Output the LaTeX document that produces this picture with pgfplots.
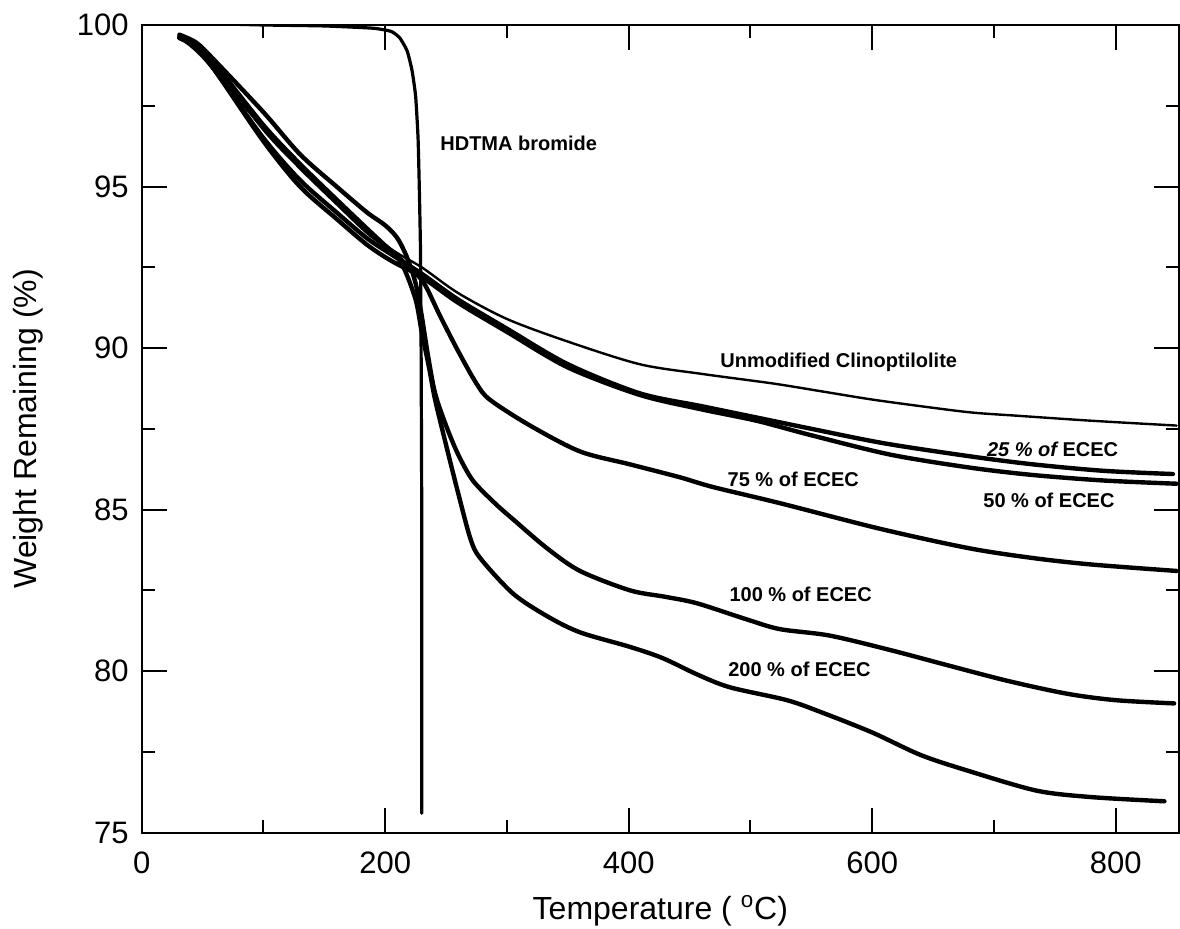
\documentclass[border=0pt]{standalone}
\usepackage{fontspec}
\setmainfont{Liberation Sans}
\usepackage{pgfplots}
\pgfplotsset{compat=1.18}
\tikzset{lbl/.style={anchor=west, inner sep=0pt, font=\bfseries\fontsize{10}{12}\selectfont}}

\begin{document}
\begin{tikzpicture}
\begin{axis}[
  scale only axis,
  width=518.7pt, height=403.85pt,
  xmin=0, xmax=852, ymin=75, ymax=100,
  xtick={0,200,...,800}, minor xtick={100,300,...,700},
  ytick={75,80,...,100}, minor ytick={77.5,82.5,...,97.5},
  tick align=inside,
  major tick length=12.5pt, minor tick length=6.5pt,
  every tick/.style={black, line width=1pt},
  axis line style={line width=1pt},
  /pgf/number format/assume math mode=true,
  ticklabel style={font=\fontsize{15.5}{18}\selectfont},
  xticklabel style={yshift=-6pt},
  yticklabel style={xshift=-3pt},
  xlabel={Temperature ( \textsuperscript{o}C)},
  ylabel={Weight Remaining (\%)},
  label style={font=\fontsize{16}{19}\selectfont},
  xlabel style={yshift=-4pt},
  ylabel style={yshift=10pt},
  every axis plot/.style={black, line join=round, line cap=round},
]
% HDTMA bromide
\addplot[line width=1.6pt, smooth, tension=0.3] coordinates {
  (31,100.1) (50,100.05) (100,100.0) (150,99.97) (190,99.9) (205,99.8)
  (212,99.6) (218,99.2) (222,98.6) (225,97.8) (227,96.5) (228,95.0)
  (229,93.0) (229.5,90.0) (230,85.0) (230,80.0) (230,75.6)
};
% unmodified clinoptilolite
\addplot[line width=1.2pt, smooth, tension=0.5] coordinates {
  (31,99.6) (50,99.0) (100,96.8) (150,94.9) (200,93.2) (230,92.5)
  (260,91.7) (300,90.9) (350,90.2) (409,89.5) (460,89.2) (519,88.9)
  (560,88.65) (601,88.4) (650,88.15) (683,88.0) (721,87.9) (780,87.75) (850,87.6)
};
% 25 % of ECEC
\addplot[line width=2.2pt, smooth, tension=0.5] coordinates {
  (31,99.6) (45,99.3) (60,98.6) (100,96.5) (130,95.2) (160,94.2) (185,93.4)
  (205,92.9) (230,92.3) (260,91.5) (300,90.6) (350,89.5) (409,88.6) (460,88.2)
  (505,87.85) (550,87.5) (610,87.05) (680,86.65) (732,86.4)
  (790,86.2) (847,86.1)
};
% 50 % of ECEC
\addplot[line width=2.2pt, smooth, tension=0.5] coordinates {
  (31,99.6) (45,99.3) (60,98.6) (100,96.4) (130,95.0) (160,94.0) (185,93.2)
  (205,92.7) (230,92.2) (260,91.4) (300,90.5) (350,89.4) (409,88.55) (460,88.1)
  (505,87.75) (550,87.3) (615,86.7) (680,86.3) (732,86.07)
  (790,85.9) (850,85.8)
};
% 75 % of ECEC
\addplot[line width=2.2pt, smooth, tension=0.5] coordinates {
  (31,99.65) (45,99.4) (60,98.8) (100,96.9) (130,95.7) (160,94.6) (185,93.7)
  (205,93.0) (220,92.5) (232,92.0) (245,91.0) (260,89.9) (275,88.9) (286,88.4)
  (319,87.6) (360,86.8) (401,86.4) (442,86.0) (469,85.7) (524,85.2) (607,84.4)
  (680,83.8) (732,83.5) (780,83.3) (850,83.1)
};
% 100 % of ECEC
\addplot[line width=2.2pt, smooth, tension=0.5] coordinates {
  (31,99.7) (45,99.45) (60,98.9) (100,97.3) (130,96.0) (160,95.0) (185,94.2)
  (200,93.8) (210,93.4) (218,92.8) (225,92.0) (230,91.0) (235,89.8) (241,88.6)
  (250,87.6) (260,86.7) (272,85.9) (290,85.2) (305,84.7) (333,83.8) (360,83.1)
  (401,82.5) (430,82.3) (456,82.1) (497,81.6) (524,81.3) (565,81.1) (615,80.65)
  (660,80.2) (711,79.7) (760,79.3) (800,79.1) (848,79.0)
};
% 200 % of ECEC
\addplot[line width=2.2pt, smooth, tension=0.5] coordinates {
  (31,99.6) (45,99.4) (60,98.8) (100,96.8) (130,95.6) (160,94.5) (185,93.6)
  (205,93.0) (215,92.5) (225,91.5) (230,90.5) (236,89.4) (241,88.4) (250,87.0)
  (260,85.5) (270,84.1) (278,83.5) (305,82.4) (333,81.7) (360,81.2) (401,80.75)
  (428,80.4) (456,79.9) (483,79.5) (530,79.1) (560,78.7) (600,78.1) (640,77.4)
  (680,76.9) (735,76.3) (780,76.1) (840,75.97)
};
\node[lbl] at (axis cs:245,96.35) {HDTMA bromide};
\node[lbl] at (axis cs:475,89.57) {Unmodified Clinoptilolite};
\node[lbl] at (axis cs:694,86.87) {\itshape 25 \% of \upshape ECEC};
\node[lbl] at (axis cs:691,85.29) {50 \% of ECEC};
\node[lbl] at (axis cs:481,85.94) {75 \% of ECEC};
\node[lbl] at (axis cs:482.5,82.38) {100 \% of ECEC};
\node[lbl] at (axis cs:481.5,80.06) {200 \% of ECEC};
\end{axis}
\pgfresetboundingbox
\path ([shift={(-70.85pt,-48.15pt)}]current axis.south west)
  rectangle ([shift={(0.5pt,12.5pt)}]current axis.north east);
\end{tikzpicture}
\end{document}
